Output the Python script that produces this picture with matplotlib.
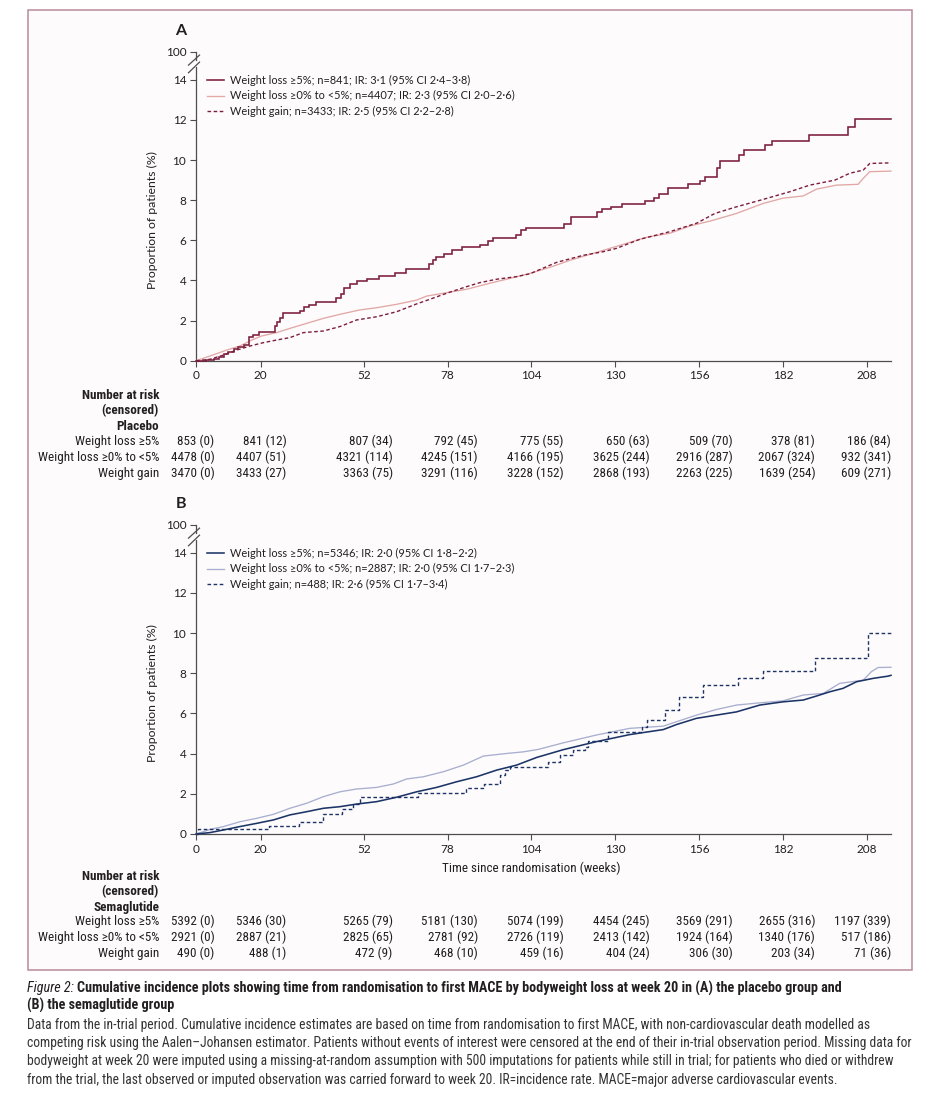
import matplotlib
matplotlib.use('Agg')
import matplotlib.pyplot as plt
from matplotlib import font_manager
from matplotlib.patches import Rectangle
from matplotlib.lines import Line2D
import matplotlib.transforms as mtransforms

# ---------------- data ----------------
x_ticks = [0, 20, 52, 78, 104, 130, 156, 182, 208]
y_ticks = [0, 2, 4, 6, 8, 10, 12, 14]

# Panel A (placebo)
pA_loss5_t = [0, 3, 5.6, 7, 8.7, 10, 11.7, 13, 14.8, 16.3, 17.8, 19.4, 24.6, 25.2, 26, 27, 32.1, 33.6, 35.1,
              37.1, 43.3, 44.9, 45.9, 47.9, 50, 53, 56.6, 61.7, 65.2, 72.4, 73.5, 74.4, 77, 79.5, 82.6, 88.1,
              90.6, 92.2, 99.3, 100.8, 102.3, 114.2, 116.2, 124.4, 126, 128.6, 132.2, 139.3, 142, 143.5, 146.4,
              152.7, 156.3, 157.8, 161.4, 162.6, 168.5, 170, 176.4, 178.6, 190.2, 202.2, 204.2, 215.5]
pA_loss5_y = [0, 0.05, 0.1, 0.2, 0.35, 0.45, 0.58, 0.68, 0.8, 1.18, 1.3, 1.42, 1.72, 1.95, 2.13, 2.38, 2.5, 2.68,
              2.8, 2.95, 3.1, 3.3, 3.63, 3.83, 3.97, 4.08, 4.22, 4.37, 4.58, 4.83, 5.0, 5.17, 5.3, 5.5, 5.65, 5.78,
              5.98, 6.13, 6.28, 6.5, 6.6, 6.8, 7.15, 7.43, 7.55, 7.68, 7.8, 7.97, 8.13, 8.32, 8.63, 8.8, 8.98,
              9.15, 9.6, 9.93, 10.27, 10.52, 10.73, 10.97, 11.27, 11.63, 12.07, 12.07]

pA_loss0_t = [0, 4.3, 9.5, 13.6, 17.3, 20.3, 25, 29.1, 34.3, 39.5, 44.6, 50.8, 56, 62.2, 68.4, 71.5, 77.7, 83.9,
              91.1, 97.3, 103.5, 109.7, 115.9, 124.2, 132.5, 139.7, 146.9, 153.1, 159.9, 167.6, 175.9, 182,
              188.3, 192.4, 198.6, 205.3, 206.9, 208.9, 215.5]
pA_loss0_y = [0, 0.23, 0.53, 0.73, 1.03, 1.23, 1.4, 1.61, 1.86, 2.11, 2.31, 2.53, 2.64, 2.81, 3.02, 3.22, 3.39,
              3.56, 3.86, 4.1, 4.35, 4.65, 5.0, 5.4, 5.8, 6.15, 6.35, 6.71, 6.98, 7.34, 7.84, 8.1, 8.21, 8.55,
              8.75, 8.79, 9.09, 9.42, 9.45]

pA_gain_t = [0, 4.3, 8.5, 12.6, 16.7, 20.9, 25, 29.1, 33.3, 39.5, 44.6, 49.8, 56, 62.2, 68.4, 72.5, 77.7, 83.9,
             88, 93.2, 99.4, 103.5, 111.8, 120, 126.2, 130.4, 137.6, 146.9, 155.2, 160.9, 167.6, 175.9, 184.1,
             190.3, 198.1, 202.7, 206.9, 208.9, 215.5]
pA_gain_y = [0, 0.07, 0.28, 0.53, 0.73, 0.9, 1.03, 1.15, 1.4, 1.48, 1.7, 2.03, 2.19, 2.44, 2.83, 3.06, 3.36,
             3.69, 3.89, 4.06, 4.19, 4.33, 4.9, 5.25, 5.43, 5.6, 6.05, 6.43, 6.85, 7.34, 7.67, 8.04, 8.42, 8.75,
             9.0, 9.34, 9.5, 9.83, 9.86]

# Panel B (semaglutide)
pB_loss5_t = [0, 4.3, 8.5, 13.6, 18.8, 24, 29.1, 34.3, 39.5, 44.6, 49.8, 56, 62.2, 68.4, 74.6, 80.8, 87, 93.2,
              99.4, 105.6, 113.9, 124.2, 134.5, 144.9, 149, 155.2, 161.4, 167.6, 174.8, 182, 188.3, 192.4,
              196.5, 200.6, 204.8, 210, 214.6, 215.5]
pB_loss5_y = [0, 0.07, 0.2, 0.37, 0.53, 0.7, 0.95, 1.11, 1.28, 1.36, 1.49, 1.61, 1.83, 2.1, 2.32, 2.6, 2.85,
              3.18, 3.43, 3.81, 4.2, 4.6, 4.95, 5.2, 5.45, 5.76, 5.92, 6.08, 6.42, 6.58, 6.67, 6.87, 7.08, 7.25,
              7.58, 7.75, 7.86, 7.9]

pB_loss0_t = [0, 2, 4.3, 8.5, 13.6, 18.8, 24, 29.1, 34.3, 39.5, 44.6, 49.8, 56, 61.2, 65.3, 70.5, 76.7, 82.9,
              89.1, 96.3, 101.5, 106.1, 113.9, 124.2, 134.5, 144.9, 149, 155.2, 161.4, 167.6, 174.8, 182,
              188.3, 194.5, 199.6, 206.9, 209.4, 211.5, 215.5]
pB_loss0_y = [0, 0.1, 0.23, 0.37, 0.61, 0.78, 0.98, 1.28, 1.53, 1.86, 2.1, 2.24, 2.32, 2.49, 2.74, 2.85, 3.1,
              3.43, 3.88, 4.01, 4.09, 4.21, 4.54, 4.93, 5.26, 5.37, 5.59, 5.92, 6.2, 6.42, 6.53, 6.63, 6.92, 7.0,
              7.5, 7.66, 8.08, 8.29, 8.3]

pB_gain_t = [0, 0.5, 22.7, 32, 39.3, 45.2, 48.8, 50.8, 68.9, 83.7, 89.3, 94.2, 95.8, 97.5, 109.2, 112.8, 117,
             120.6, 121.5, 127.8, 138.2, 139.9, 145.4, 149.8, 157.1, 168.1, 175.9, 191.9, 208.4, 215.5]
pB_gain_y = [0, 0.23, 0.41, 0.61, 1.0, 1.25, 1.5, 1.86, 2.06, 2.27, 2.49, 2.94, 3.18, 3.35, 3.6, 3.93, 4.2,
             4.34, 4.64, 5.09, 5.34, 5.67, 6.17, 6.8, 7.41, 7.75, 8.12, 8.74, 10.02, 10.02]

labels_A = ["Weight loss \u22655%; n=841; IR: 3\u00b71 (95% CI 2\u00b74\u20133\u00b78)",
            "Weight loss \u22650% to <5%; n=4407; IR: 2\u00b73 (95% CI 2\u00b70\u20132\u00b76)",
            "Weight gain; n=3433; IR: 2\u00b75 (95% CI 2\u00b72\u20132\u00b78)"]
labels_B = ["Weight loss \u22655%; n=5346; IR: 2\u00b70 (95% CI 1\u00b78\u20132\u00b72)",
            "Weight loss \u22650% to <5%; n=2887; IR: 2\u00b70 (95% CI 1\u00b77\u20132\u00b73)",
            "Weight gain; n=488; IR: 2\u00b76 (95% CI 1\u00b77\u20133\u00b74)"]

row_labels = ["Weight loss \u22655%", "Weight loss \u22650% to <5%", "Weight gain"]

risk_A_loss5 = [853, 841, 807, 792, 775, 650, 509, 378, 186]
cens_A_loss5 = [0, 12, 34, 45, 55, 63, 70, 81, 84]
risk_A_loss0 = [4478, 4407, 4321, 4245, 4166, 3625, 2916, 2067, 932]
cens_A_loss0 = [0, 51, 114, 151, 195, 244, 287, 324, 341]
risk_A_gain = [3470, 3433, 3363, 3291, 3228, 2868, 2263, 1639, 609]
cens_A_gain = [0, 27, 75, 116, 152, 193, 225, 254, 271]

risk_B_loss5 = [5392, 5346, 5265, 5181, 5074, 4454, 3569, 2655, 1197]
cens_B_loss5 = [0, 30, 79, 130, 199, 245, 291, 316, 339]
risk_B_loss0 = [2921, 2887, 2825, 2781, 2726, 2413, 1924, 1340, 517]
cens_B_loss0 = [0, 21, 65, 92, 119, 142, 164, 176, 186]
risk_B_gain = [490, 488, 472, 468, 459, 404, 306, 203, 71]
cens_B_gain = [0, 1, 9, 10, 16, 24, 30, 34, 36]

caption_title = ("Figure 2:", "Cumulative incidence plots showing time from randomisation to first MACE by bodyweight loss at week 20 in (A) the placebo group and",
                 "(B) the semaglutide group")
caption_body = [
    "Data from the in-trial period. Cumulative incidence estimates are based on time from randomisation to first MACE, with non-cardiovascular death modelled as",
    "competing risk using the Aalen\u2013Johansen estimator. Patients without events of interest were censored at the end of their in-trial observation period. Missing data for",
    "bodyweight at week 20 were imputed using a missing-at-random assumption with 500 imputations for patients while still in trial; for patients who died or withdrew",
    "from the trial, the last observed or imputed observation was carried forward to week 20. IR=incidence rate. MACE=major adverse cardiovascular events.",
]

# ---------------- layout ----------------
W, H = 943, 1106
fig = plt.figure(figsize=(W / 100, H / 100), dpi=100)
renderer = fig.canvas.get_renderer()

ttf = font_manager.fontManager.ttflist


def _has(name, stretch=None):
    return any(f.name == name and (stretch is None or f.stretch == stretch) for f in ttf)


# pick a condensed face for the table and caption if one is installed
NARROW, NSTRETCH = 'Liberation Sans', 'normal'
for nm, st in [('Liberation Sans Narrow', None), ('Roboto Condensed', None), ('Noto Sans', 'condensed'),
               ('Open Sans', 'condensed'), ('Roboto', 'condensed'), ('Noto Sans', 'semi-condensed'),
               ('Open Sans', 'semi-condensed')]:
    if _has(nm, st):
        NARROW, NSTRETCH = nm, (st if st else 'normal')
        break
MAIN = 'Lato' if _has('Lato') else 'Liberation Sans'
F_MAIN = [MAIN, 'DejaVu Sans']
F_NARROW = [NARROW, 'DejaVu Sans']


def fx(px):
    return px / W


def fy(py):
    return 1 - py / H


def ntext(x, y, s, **kw):
    kw.setdefault('family', F_NARROW)
    kw.setdefault('stretch', NSTRETCH)
    return fig.text(x, y, s, **kw)


def fit_size(s, family, target, weight='normal', style='normal', stretch='normal'):
    t = fig.text(0, 0, s, fontsize=10, family=family, weight=weight, style=style, stretch=stretch)
    w = t.get_window_extent(renderer).width
    t.remove()
    return 10.0 * target / w


TXT = '#231f20'
AX_COL = '#4d4d4d'

# frame
fig.patches.append(Rectangle((fx(28), fy(970)), (912 - 28) / W, (970 - 10) / H, transform=fig.transFigure,
                             facecolor='#fefbfc', edgecolor='#b88a9d', linewidth=1.1, zorder=-10))

tick_fs = fit_size('100', F_MAIN, 20.5)
leg_fs = fit_size(labels_A[1], F_MAIN, 283.0)
tab_fs = min(fit_size(row_labels[1], F_NARROW, 121.0, stretch=NSTRETCH), 10.0)
ylab_fs = fit_size('Proportion of patients (%)', F_MAIN, 140.0)

XMAX = 215.5
YTOP = 15.4  # position of the "100" tick (broken axis)
col_right = [5.7, 28.0, 61.0, 87.4, 114.0, 140.7, 166.5, 192.0, 215.5]


def panel(top_px, zero_px, letter, curves, labels, table, group, table_rows_px, xlabel=False):
    ax = fig.add_axes([fx(196), fy(zero_px), (891 - 196) / W, (zero_px - top_px) / H])
    ax.set_facecolor('none')
    ax.set_zorder(2)
    ax.set_xlim(0, XMAX)
    ax.set_ylim(0, YTOP)
    for sp in ['top', 'right']:
        ax.spines[sp].set_visible(False)
    for sp in ['left', 'bottom']:
        ax.spines[sp].set_color(AX_COL)
        ax.spines[sp].set_linewidth(0.9)
    ax.spines['left'].set_bounds(0, 14.62)
    ax.spines['bottom'].set_bounds(0, XMAX)
    ax.set_xticks(x_ticks)
    ax.set_xticklabels([str(v) for v in x_ticks])
    ax.set_yticks(y_ticks + [YTOP])
    ax.set_yticklabels([str(v) for v in y_ticks] + ['100'])
    ax.tick_params(direction='out', length=4.5, width=0.8, color=AX_COL, labelcolor=TXT,
                   labelsize=tick_fs, pad=2.5)
    for lab in ax.get_xticklabels() + ax.get_yticklabels():
        lab.set_family(F_MAIN)

    # axis break
    ytr = ax.get_yaxis_transform()
    pxw = 695.0
    ax.add_line(Line2D([0, 0], [14.98, YTOP], transform=ytr, color=AX_COL, lw=0.9, clip_on=False))
    for y0, y1 in [(14.73, 15.23), (14.35, 14.88)]:
        ax.add_line(Line2D([-7.5 / pxw, 3.5 / pxw], [y0, y1], transform=ytr, color=AX_COL, lw=0.9,
                           clip_on=False))

    # curves
    for (t, y, color, lw, ls, ds, z) in curves:
        ax.plot(t, y, color=color, lw=lw, linestyle=ls, drawstyle=ds, zorder=z, clip_on=False,
                solid_joinstyle='miter')

    # legend (manual)
    for i, (lab, (t, y, color, lw, ls, ds, z)) in enumerate(zip(labels, curves)):
        py = top_px + 28.3 + 15.5 * i
        fig.add_artist(Line2D([fx(206.5), fx(224)], [fy(py), fy(py)], transform=fig.transFigure,
                              color=color, lw=lw, linestyle=ls))
        fig.text(fx(229.5), fy(py), lab, fontsize=leg_fs, family=F_MAIN, color=TXT, va='center', ha='left')

    # panel letter
    fig.text(fx(181), fy(top_px - 21), letter, fontsize=11.5, family=F_MAIN, weight='bold', color=TXT,
             ha='center', va='center')

    # y label
    btr = mtransforms.blended_transform_factory(fig.transFigure, ax.transData)
    fig.text(fx(152), 7, 'Proportion of patients (%)', transform=btr, rotation=90, fontsize=ylab_fs,
             family=F_MAIN, color=TXT, ha='center', va='center')

    xtr = mtransforms.blended_transform_factory(ax.transData, fig.transFigure)
    if xlabel:
        ntext(104, fy(zero_px + 34), 'Time since randomisation (weeks)', transform=xtr, fontsize=tab_fs,
              color=TXT, ha='center', va='center')

    # number-at-risk table
    head = ['Number at risk', '(censored)', group]
    for txt, py in zip(head, table_rows_px[:3]):
        ntext(fx(159), fy(py), txt, fontsize=tab_fs, weight='bold', color=TXT, ha='right', va='center')
    for (rl, (nums, cens)), py in zip(zip(row_labels, table), table_rows_px[3:]):
        ntext(fx(159), fy(py), rl, fontsize=tab_fs, color=TXT, ha='right', va='center')
        for xr, n, c in zip(col_right, nums, cens):
            ntext(xr, fy(py), f"{n} ({c})", transform=xtr, fontsize=tab_fs, color=TXT,
                  ha='right', va='center')
    return ax


A_DARK, A_LIGHT = '#7c1d3d', '#e2a8a6'
B_DARK, B_LIGHT = '#1c3566', '#a8afcf'
DASH = (0, (2.6, 1.8))

curves_A = [
    (pA_loss5_t, pA_loss5_y, A_DARK, 1.15, '-', 'steps-post', 5),
    (pA_loss0_t, pA_loss0_y, A_LIGHT, 0.95, '-', 'default', 3),
    (pA_gain_t, pA_gain_y, A_DARK, 1.0, DASH, 'default', 4),
]
curves_B = [
    (pB_loss5_t, pB_loss5_y, B_DARK, 1.15, '-', 'default', 5),
    (pB_loss0_t, pB_loss0_y, B_LIGHT, 0.95, '-', 'default', 3),
    (pB_gain_t, pB_gain_y, B_DARK, 1.0, DASH, 'steps-post', 4),
]

table_A = [(risk_A_loss5, cens_A_loss5), (risk_A_loss0, cens_A_loss0), (risk_A_gain, cens_A_gain)]
table_B = [(risk_B_loss5, cens_B_loss5), (risk_B_loss0, cens_B_loss0), (risk_B_gain, cens_B_gain)]

panel(51.7, 360.7, 'A', curves_A, labels_A, table_A, 'Placebo',
      [395, 411, 426.5, 441.7, 457.3, 473.3])
panel(524.7, 834.0, 'B', curves_B, labels_B, table_B, 'Semaglutide',
      [876.7, 891.7, 907.3, 921.7, 937.3, 953.3], xlabel=True)

# ---------------- caption ----------------
title_fs = min(fit_size(caption_title[0] + ' ' + caption_title[1], F_NARROW, 816.0, weight='bold',
                        stretch=NSTRETCH), 11.0)
body_fs = min(fit_size(caption_body[1], F_NARROW, 878.0, stretch=NSTRETCH), 11.0)
t0 = ntext(fx(27), fy(988), caption_title[0], fontsize=title_fs, style='italic', color=TXT,
           va='center', ha='left')
w0 = t0.get_window_extent(renderer).width
ntext(fx(27 + w0 + 3), fy(988), caption_title[1], fontsize=title_fs, weight='bold', color=TXT,
      va='center', ha='left')
ntext(fx(27), fy(1005.5), caption_title[2], fontsize=title_fs, weight='bold', color=TXT,
      va='center', ha='left')
for i, line in enumerate(caption_body):
    ntext(fx(27), fy(1024.5 + 18.5 * i), line, fontsize=body_fs, color='#333333', va='center', ha='left')

fig.savefig('out.png', dpi=100)
